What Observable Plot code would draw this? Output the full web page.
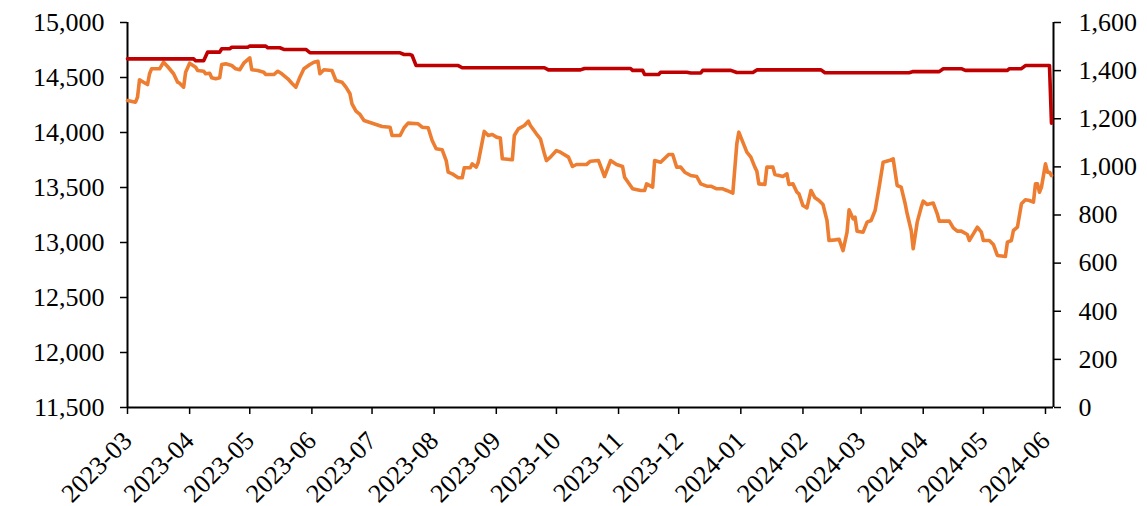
<!DOCTYPE html>
<html>
<head>
<meta charset="utf-8">
<script src="https://cdn.jsdelivr.net/npm/d3@7"></script>
<script src="https://cdn.jsdelivr.net/npm/@observablehq/plot@0.6"></script>
<style>
  html, body { margin: 0; padding: 0; background: #fff; }
  #chart { width: 1147px; height: 506px; }
</style>
</head>
<body>
<div id="chart"></div>
<script>
// Orange series (left axis)
const orangeDates = ["2023-03-01","2023-03-05","2023-03-06","2023-03-07","2023-03-09","2023-03-11","2023-03-12","2023-03-13","2023-03-17","2023-03-19","2023-03-21","2023-03-24","2023-03-26","2023-03-27","2023-03-29","2023-03-30","2023-04-01","2023-04-04","2023-04-05","2023-04-08","2023-04-09","2023-04-11","2023-04-12","2023-04-14","2023-04-16","2023-04-17","2023-04-19","2023-04-22","2023-04-24","2023-04-26","2023-04-28","2023-05-01","2023-05-02","2023-05-05","2023-05-08","2023-05-09","2023-05-13","2023-05-15","2023-05-17","2023-05-20","2023-05-22","2023-05-24","2023-05-26","2023-05-28","2023-05-31","2023-06-02","2023-06-04","2023-06-05","2023-06-07","2023-06-11","2023-06-13","2023-06-16","2023-06-18","2023-06-20","2023-06-21","2023-06-23","2023-06-25","2023-06-27","2023-06-30","2023-07-03","2023-07-06","2023-07-10","2023-07-11","2023-07-15","2023-07-17","2023-07-19","2023-07-24","2023-07-26","2023-07-29","2023-07-31","2023-08-02","2023-08-05","2023-08-07","2023-08-08","2023-08-10","2023-08-13","2023-08-15","2023-08-16","2023-08-19","2023-08-20","2023-08-22","2023-08-23","2023-08-26","2023-08-28","2023-08-30","2023-09-01","2023-09-03","2023-09-04","2023-09-09","2023-09-10","2023-09-12","2023-09-15","2023-09-17","2023-09-18","2023-09-21","2023-09-23","2023-09-25","2023-09-26","2023-09-28","2023-10-01","2023-10-03","2023-10-07","2023-10-09","2023-10-11","2023-10-16","2023-10-18","2023-10-22","2023-10-25","2023-10-28","2023-10-31","2023-11-03","2023-11-04","2023-11-08","2023-11-12","2023-11-14","2023-11-15","2023-11-18","2023-11-19","2023-11-22","2023-11-26","2023-11-28","2023-11-30","2023-12-02","2023-12-04","2023-12-07","2023-12-10","2023-12-12","2023-12-15","2023-12-17","2023-12-20","2023-12-23","2023-12-25","2023-12-28","2023-12-30","2023-12-31","2024-01-02","2024-01-04","2024-01-06","2024-01-08","2024-01-09","2024-01-10","2024-01-13","2024-01-14","2024-01-17","2024-01-18","2024-01-22","2024-01-24","2024-01-25","2024-01-27","2024-01-29","2024-01-30","2024-02-01","2024-02-03","2024-02-05","2024-02-07","2024-02-09","2024-02-11","2024-02-13","2024-02-14","2024-02-17","2024-02-19","2024-02-21","2024-02-23","2024-02-24","2024-02-26","2024-02-27","2024-02-28","2024-03-02","2024-03-04","2024-03-06","2024-03-08","2024-03-10","2024-03-12","2024-03-15","2024-03-17","2024-03-19","2024-03-21","2024-03-23","2024-03-24","2024-03-26","2024-03-27","2024-03-29","2024-03-31","2024-04-01","2024-04-03","2024-04-06","2024-04-08","2024-04-09","2024-04-14","2024-04-16","2024-04-18","2024-04-20","2024-04-23","2024-04-24","2024-04-26","2024-04-28","2024-04-30","2024-05-01","2024-05-04","2024-05-06","2024-05-08","2024-05-12","2024-05-13","2024-05-15","2024-05-16","2024-05-18","2024-05-20","2024-05-22","2024-05-24","2024-05-26","2024-05-27","2024-05-28","2024-05-29","2024-05-30","2024-06-01","2024-06-02","2024-06-03","2024-06-04"];
const orangeValues = [14291,14276,14321,14479,14457,14436,14534,14579,14579,14639,14600,14534,14457,14448,14412,14548,14630,14594,14564,14557,14534,14539,14497,14488,14497,14618,14624,14609,14579,14570,14630,14679,14570,14564,14548,14527,14527,14557,14534,14488,14448,14412,14503,14579,14618,14639,14648,14534,14570,14564,14473,14457,14412,14352,14261,14194,14164,14109,14091,14073,14055,14048,13973,13973,14043,14085,14079,14048,14043,13927,13852,13843,13745,13639,13624,13588,13588,13679,13679,13715,13685,13730,14010,13973,13982,13958,13950,13761,13752,13973,14033,14064,14103,14064,13988,13943,13806,13745,13776,13836,13821,13776,13691,13709,13709,13739,13745,13600,13745,13709,13691,13594,13488,13473,13473,13533,13503,13745,13730,13800,13800,13685,13685,13639,13609,13600,13533,13512,13512,13488,13488,13473,13448,13897,14003,13912,13821,13776,13685,13648,13533,13527,13685,13685,13618,13600,13624,13527,13533,13457,13442,13336,13315,13473,13406,13382,13345,13200,13018,13024,13030,12927,13094,13297,13215,13230,13103,13094,13185,13200,13291,13503,13730,13745,13761,13518,13503,13352,13261,13109,12943,13185,13321,13376,13345,13358,13261,13194,13194,13133,13103,13103,13073,13018,13079,13139,13094,13018,13018,12982,12882,12873,13003,13018,13109,13139,13352,13388,13382,13367,13533,13533,13457,13503,13715,13639,13639,13609];

// Red series (right axis)
const redDates = ["2023-03-01","2023-04-03","2023-04-04","2023-04-08","2023-04-10","2023-04-16","2023-04-17","2023-04-21","2023-04-22","2023-04-30","2023-05-01","2023-05-09","2023-05-10","2023-05-16","2023-05-18","2023-05-29","2023-05-31","2023-07-15","2023-07-17","2023-07-20","2023-07-21","2023-07-23","2023-08-13","2023-08-15","2023-09-25","2023-09-27","2023-10-13","2023-10-15","2023-11-07","2023-11-08","2023-11-13","2023-11-14","2023-11-21","2023-11-22","2023-12-05","2023-12-07","2023-12-12","2023-12-13","2023-12-27","2023-12-30","2024-01-07","2024-01-09","2024-02-10","2024-02-12","2024-03-25","2024-03-27","2024-04-09","2024-04-11","2024-04-20","2024-04-22","2024-05-13","2024-05-14","2024-05-20","2024-05-22","2024-06-03","2024-06-04"];
const redValues = [1449,1449,1441,1441,1477,1477,1491,1491,1497,1497,1502,1502,1495,1495,1488,1488,1475,1474,1467,1467,1463,1421,1421,1412,1412,1403,1403,1409,1409,1401,1401,1384,1384,1393,1393,1390,1390,1401,1401,1392,1392,1403,1403,1391,1391,1396,1396,1408,1408,1401,1401,1408,1408,1421,1421,1182];

// Axis ticks
const xTickLabels = ["2023-03","2023-04","2023-05","2023-06","2023-07","2023-08","2023-09","2023-10","2023-11","2023-12","2024-01","2024-02","2024-03","2024-04","2024-05","2024-06"];
const leftTicks = [11500,12000,12500,13000,13500,14000,14500,15000];
const rightTicks = [0,200,400,600,800,1000,1200,1400,1600];

const leftDomain = [11500, 15000];
const rightDomain = [0, 1600];
const xDomain = [new Date("2023-03-01"), new Date("2024-06-05")];

const toLeft = v => leftDomain[0] + (v - rightDomain[0]) * (leftDomain[1] - leftDomain[0]) / (rightDomain[1] - rightDomain[0]);
const toRight = v => rightDomain[0] + (v - leftDomain[0]) * (rightDomain[1] - rightDomain[0]) / (leftDomain[1] - leftDomain[0]);

const orange = orangeDates.map((d, i) => ({date: new Date(d), value: orangeValues[i]}));
const red = redDates.map((d, i) => ({date: new Date(d), value: redValues[i]}));
const xTicks = xTickLabels.map(s => new Date(s + "-01"));
const fmt = d3.format(",");

const chart = Plot.plot({
  width: 1147,
  height: 506,
  marginLeft: 127,
  marginRight: 94,
  marginTop: 22,
  marginBottom: 99,
  style: {fontFamily: '"Liberation Serif", "Times New Roman", serif', fontSize: "26px", color: "#000", background: "#fff", overflow: "visible"},
  x: {type: "utc", domain: xDomain},
  y: {domain: leftDomain},
  marks: [
    Plot.axisY(leftTicks, {anchor: "left", tickSize: 7, tickPadding: 16, tickFormat: fmt, label: null, strokeWidth: 1.5}),
    Plot.axisY(rightTicks.map(toLeft), {anchor: "right", tickSize: 7, tickPadding: 18, tickFormat: d => fmt(Math.round(toRight(d))), label: null, strokeWidth: 1.5}),
    Plot.axisX(xTicks, {anchor: "bottom", tickSize: 7, tickFormat: () => "", label: null, strokeWidth: 1.5}),
    Plot.axisX(xTicks, {anchor: "bottom", tickSize: 0, tickPadding: 29, dx: 0, tickRotate: -45, tickFormat: d3.utcFormat("%Y-%m"), label: null}),
    Plot.ruleX([xDomain[0]], {stroke: "#000", strokeWidth: 2}),
    Plot.ruleX([xDomain[1]], {stroke: "#000", strokeWidth: 2}),
    Plot.ruleY([leftDomain[0]], {stroke: "#000", strokeWidth: 2}),
    Plot.line(orange, {x: "date", y: "value", stroke: "#ED7D31", strokeWidth: 3.6}),
    Plot.line(red, {x: "date", y: d => toLeft(d.value), stroke: "#C00000", strokeWidth: 3.6})
  ]
});
document.getElementById("chart").appendChild(chart);
</script>
</body>
</html>
